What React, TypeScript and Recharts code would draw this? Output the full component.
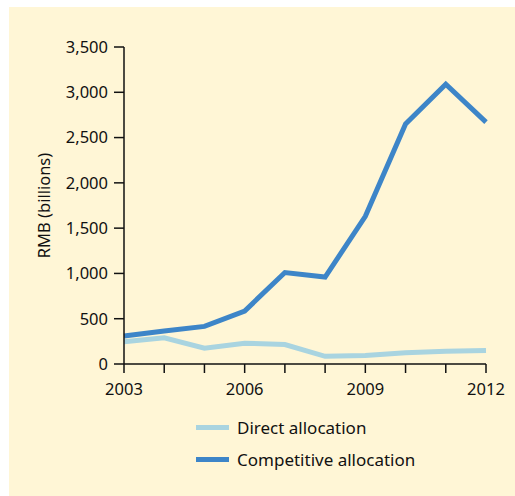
import React from "react";
import { LineChart, Line, XAxis, YAxis } from "recharts";

const years = ["2003", "2004", "2005", "2006", "2007", "2008", "2009", "2010", "2011", "2012"];
const directAllocation = [245, 290, 175, 230, 215, 85, 95, 125, 140, 150];
const competitiveAllocation = [310, 365, 415, 585, 1010, 960, 1630, 2650, 3090, 2670];
const yTicks = [0, 500, 1000, 1500, 2000, 2500, 3000, 3500];
const labelledYears = ["2003", "2006", "2009", "2012"];

const data = years.map((year, i) => ({
  year,
  direct: directAllocation[i],
  competitive: competitiveAllocation[i],
}));

const FONT = "'Noto Sans', sans-serif";
const BG = "#fff6d6";
const DIRECT = "#a9d4e0";
const COMPETITIVE = "#3d85c8";

export default function App() {
  return (
    <div style={{ position: "absolute", left: 0, top: 0, width: 515, height: 496, background: "#fff", fontFamily: FONT }}>
      <div style={{ position: "absolute", left: 9, top: 7, right: 0, bottom: 0, background: BG }} />
      <div style={{ position: "absolute", left: 0, top: 0 }}>
        <LineChart width={515} height={496} data={data} margin={{ top: 47, right: 29, bottom: 92, left: 44 }}>
          <XAxis
            dataKey="year"
            interval={0}
            tickSize={9}
            tickMargin={10}
            tickFormatter={(v: string) => (labelledYears.includes(v) ? v : "")}
            axisLine={{ stroke: "#111", strokeWidth: 1.5 }}
            tickLine={{ stroke: "#111", strokeWidth: 1.5 }}
            tick={{ fill: "#111", fontSize: 16.5, fontFamily: FONT }}
            height={40}
          />
          <YAxis
            domain={[0, 3500]}
            ticks={yTicks}
            width={80}
            tickSize={10}
            tickMargin={6}
            tickFormatter={(v: number) => v.toLocaleString("en-US")}
            axisLine={{ stroke: "#111", strokeWidth: 1.5 }}
            tickLine={{ stroke: "#111", strokeWidth: 1.5 }}
            tick={{ fill: "#111", fontSize: 16.5, fontFamily: FONT }}
            label={{
              value: "RMB (billions)",
              angle: -90,
              position: "insideLeft",
              offset: 0,
              style: { fill: "#111", fontSize: 16.5, fontFamily: FONT, textAnchor: "middle" },
            }}
          />
          <Line
            type="linear"
            dataKey="direct"
            stroke={DIRECT}
            strokeWidth={5}
            dot={false}
            isAnimationActive={false}
          />
          <Line
            type="linear"
            dataKey="competitive"
            stroke={COMPETITIVE}
            strokeWidth={5}
            dot={false}
            isAnimationActive={false}
          />
        </LineChart>
      </div>
      <div style={{ position: "absolute", left: 196, top: 411, fontSize: 17, color: "#111" }}>
        {[
          { name: "Direct allocation", color: DIRECT },
          { name: "Competitive allocation", color: COMPETITIVE },
        ].map((item) => (
          <div key={item.name} style={{ display: "flex", alignItems: "center", height: 32 }}>
            <span style={{ display: "inline-block", width: 33, height: 5, background: item.color, marginRight: 8 }} />
            <span>{item.name}</span>
          </div>
        ))}
      </div>
    </div>
  );
}
